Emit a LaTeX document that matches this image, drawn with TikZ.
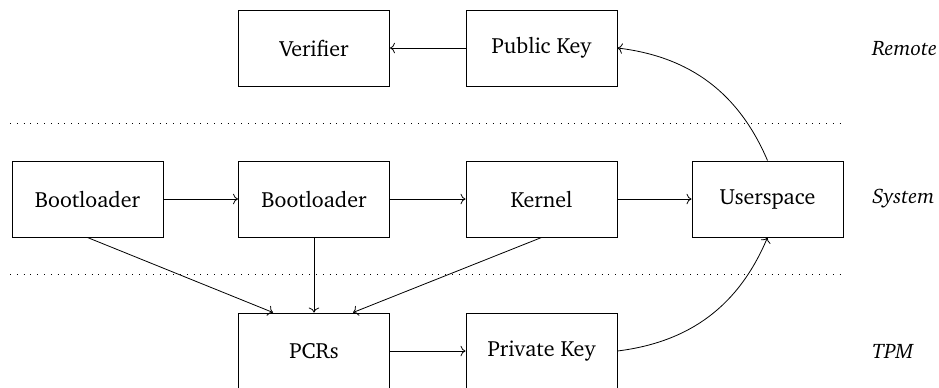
\documentclass[tikz,border=0pt]{standalone}
\usepackage[T1]{fontenc}
\usepackage{charter}
\usepackage{tikz}
\usetikzlibrary{positioning, arrows.meta}

\begin{document}
\begin{tikzpicture}[x=0.5pt, y=-0.5pt, font=\fontsize{11}{13}\selectfont,
                    block/.style={draw, line width=0.5pt, minimum width=75.5pt, minimum height=38pt, inner sep=0pt},
                    layer/.style={anchor=west, inner sep=0pt, font=\fontsize{10.5}{12}\selectfont\itshape},
                    sep/.style={line width=0.5pt, dash pattern=on 0.4pt off 3pt}]
    \useasboundingbox (0,0) rectangle (939,387);

    % Remote
    \node[block] (ver) at (314, 48) {Verifier};
    \node[block] (pub) at (541.5, 48) {Public Key};

    % System
    \node[block] (boot1) at (87.5, 199) {Bootloader};
    \node[block] (boot2) at (314, 199) {Bootloader};
    \node[block] (kern) at (541.5, 199) {Kernel};
    \node[block] (user) at (767.5, 199) {Userspace};

    % TPM
    \node[block] (pcr) at (314, 351) {PCRs};
    \node[block] (priv) at (541.5, 351) {Private Key};

    % Layer names
    \node[layer] (lremote) at (872, 48) {Remote};
    \node[layer] (lsystem) at (872, 199) {System};
    \node[layer] (ltpm) at (872, 351) {TPM};

    % Separators
    \coordinate (s1a) at (10, 123); \coordinate (s1b) at (843, 123);
    \coordinate (s2a) at (10, 274); \coordinate (s2b) at (843, 274);
    \draw[sep] (s1a) -- (s1b);
    \draw[sep] (s2a) -- (s2b);

    % Boot chain
    \draw[->] (boot1) -- (boot2);
    \draw[->] (boot2) -- (kern);
    \draw[->] (kern) -- (user);

    % Measurements
    \draw[->] (boot1.south) -- ([xshift=-20.5pt]pcr.north);
    \draw[->] (boot2.south) -- (pcr.north);
    \draw[->] (kern.south) -- ([xshift=19.5pt]pcr.north);
    \draw[->] (pcr) -- (priv);

    % Keys
    \draw[->] (priv.east) to[bend right=30] (user.south);
    \draw[->] (user.north) to[bend right=30] (pub.east);
    \draw[->] (pub) -- (ver);
\end{tikzpicture}
\end{document}
